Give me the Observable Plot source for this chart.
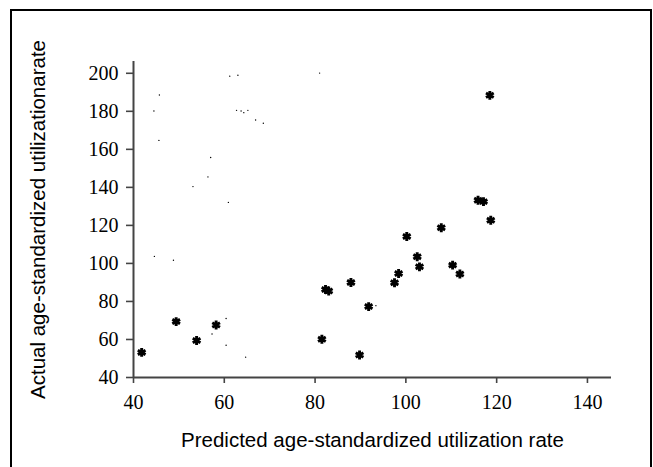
<!DOCTYPE html>
<html>
<head>
<meta charset="utf-8">
<script src="https://cdn.jsdelivr.net/npm/d3@7"></script>
<script src="https://cdn.jsdelivr.net/npm/@observablehq/plot@0.6"></script>
<style>
  html, body { margin: 0; padding: 0; background: #fff; }
  #frame { position: absolute; left: 10px; top: 9px; width: 638px; height: 470px;
           border: 2px solid #000; border-bottom: none; }
  #chart { position: absolute; left: 0; top: 0; }
</style>
</head>
<body>
<div id="frame"></div>
<div id="chart"></div>
<script>
// Large star markers: predicted (x) vs actual (y)
const starX = [41.8, 49.4, 53.9, 58.2, 81.5, 82.3, 83.0, 87.9, 89.8, 91.8, 97.5, 98.4, 100.2, 102.5, 103.0, 107.8, 110.3, 111.9, 115.9, 117.1, 118.5, 118.7];
const starY = [53.2, 69.4, 59.5, 67.6, 60.1, 86.3, 85.5, 90.0, 51.8, 77.3, 89.8, 94.7, 114.2, 103.5, 98.2, 118.8, 99.1, 94.4, 133.2, 132.5, 188.4, 122.7];
// Tiny dots
const dotX = [45.7, 44.5, 45.6, 61.2, 63.0, 62.7, 63.7, 64.3, 65.2, 66.9, 68.6, 57.0, 56.4, 53.1, 60.9, 44.6, 48.8, 60.4, 57.3, 60.4, 64.7, 81.0, 93.4];
const dotY = [188.6, 180.2, 164.7, 198.5, 199.0, 180.5, 180.2, 179.3, 180.5, 175.4, 173.7, 155.7, 145.5, 140.4, 132.1, 103.7, 101.7, 71.0, 62.9, 57.0, 50.7, 200.1, 77.8];
const xTicks = [40, 60, 80, 100, 120, 140];
const yTicks = [40, 60, 80, 100, 120, 140, 160, 180, 200];
const xLabel = "Predicted age-standardized utilization rate";
const yLabel = "Actual age-standardized utilizationarate";

const stars = starX.map((x, i) => ({x, y: starY[i]}));
const dots = dotX.map((x, i) => ({x, y: dotY[i]}));

const serif = "'Liberation Serif', 'Times New Roman', serif";
const sans = "'Liberation Sans', Arial, Helvetica, sans-serif";

const chart = Plot.plot({
  width: 653,
  height: 467,
  marginLeft: 133,
  marginRight: 42,
  marginTop: 61,
  marginBottom: 90,
  x: {domain: [40, 145.3]},
  y: {domain: [40, 206.2]},
  marks: [
    Plot.axisX({ticks: xTicks, tickSize: 6, tickPadding: 11, fontSize: 20, fontFamily: serif, stroke: "#444", strokeWidth: 1.6,
                label: xLabel, labelAnchor: "center", labelOffset: 69, labelArrow: "none"}),
    Plot.axisY({ticks: yTicks, tickSize: 7, tickPadding: 8, fontSize: 20, fontFamily: serif, stroke: "#444", strokeWidth: 1.6,
                label: yLabel, labelAnchor: "center", labelOffset: 103, labelArrow: "none"}),
    Plot.ruleX([40], {stroke: "#444", strokeWidth: 2}),
    Plot.ruleY([40], {stroke: "#444", strokeWidth: 2}),
    Plot.dot(dots, {x: "x", y: "y", r: 0.7, fill: "#000", stroke: null}),
    Plot.dot(stars, {x: "x", y: "y", symbol: "asterisk", r: 4.2, stroke: "#000", strokeWidth: 2.9})
  ]
});
chart.querySelectorAll('g[aria-label="x-axis label"], g[aria-label="y-axis label"]').forEach(g => {
  g.setAttribute("font-size", 20.5);
  g.setAttribute("font-family", sans);
});
document.getElementById("chart").appendChild(chart);
</script>
</body>
</html>
